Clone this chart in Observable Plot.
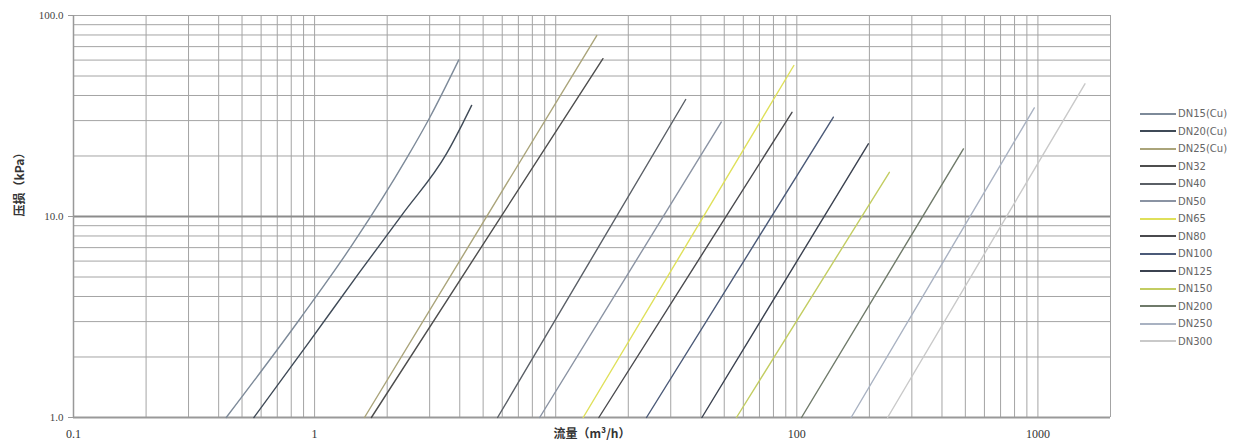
<!DOCTYPE html>
<html>
<head>
<meta charset="utf-8">
<script src="https://cdn.jsdelivr.net/npm/d3@7"></script>
<script src="https://cdn.jsdelivr.net/npm/@observablehq/plot@0.6"></script>
<style>
  html, body { margin: 0; padding: 0; background: #fff; }
  #wrap { position: relative; width: 1257px; height: 446px; }
  #legend { position: absolute; left: 1140px; top: 105px; font-family: "DejaVu Sans", sans-serif; font-size: 10px; color: #666; }
  #legend .row { display: flex; align-items: center; height: 17.5px; }
  #legend .sw { width: 36px; height: 2px; margin-right: 2px; }
</style>
</head>
<body>
<div id="wrap"><div id="legend"></div></div>
<script>
// Series names (legend order)
const series = ["DN15(Cu)", "DN20(Cu)", "DN25(Cu)", "DN32", "DN40", "DN50", "DN65",
  "DN80", "DN100", "DN125", "DN150", "DN200", "DN250", "DN300"];

// Flow (m³/h) readings per series
const flows = [
  [0.43, 0.87, 1.44, 2.41, 3.0, 3.96],
  [0.56, 0.95, 1.54, 2.32, 3.53, 4.11, 4.48],
  [1.61, 14.8],
  [1.72, 15.7],
  [5.74, 34.6],
  [8.58, 48.6],
  [13.0, 97.2],
  [15.1, 95.5],
  [23.8, 141.8],
  [40.4, 198],
  [56.2, 242],
  [104.6, 491],
  [168, 966],
  [238, 1567]
];

// Pressure loss (kPa) readings per series
const losses = [
  [1.0, 3.1, 7.3, 19.5, 31, 60],
  [1.0, 2.38, 5.3, 10.3, 20.6, 29, 35.7],
  [1.0, 79.5],
  [1.0, 61],
  [1.0, 38.2],
  [1.0, 29.5],
  [1.0, 56.4],
  [1.0, 33],
  [1.0, 31.2],
  [1.0, 23],
  [1.0, 16.6],
  [1.0, 21.7],
  [1.0, 34.7],
  [1.0, 45.7]
];

// Line colours
const palette = ["#7d8a99", "#3f4a57", "#aaa47a", "#4d4d4d", "#5a5f66", "#8a93a3", "#dfe05a",
  "#4a4a4e", "#4b5a78", "#3b4250", "#c3cd62", "#6f7a6a", "#a9b2c2", "#c9c9c9"];

// Axis tick labels
const xTickLabels = [0.1, 1, 100, 1000];
const yTickLabels = [1, 10, 100];
const xTitle = "流量（m³/h）";
const yTitle = "压损（kPa）";

// Gridlines: every 1..9 multiple of each decade
const xGrid = [0.1, 1, 10, 100, 1000].flatMap(d => d3.range(1, 10).map(k => k * d)).filter(v => v <= 2000);
const yGrid = [1, 10].flatMap(d => d3.range(1, 10).map(k => k * d)).concat([100]);

const rows = series.flatMap((s, i) => flows[i].map((f, j) => ({series: s, flow: f, loss: losses[i][j]})));

const chart = Plot.plot({
  width: 1257,
  height: 446,
  marginLeft: 73,
  marginRight: 147,
  marginTop: 15,
  marginBottom: 29,
  style: {background: "#fff", fontFamily: "Liberation Serif, serif"},
  x: {type: "log", domain: [0.1, 2000]},
  y: {type: "log", domain: [1, 100]},
  color: {domain: series, range: palette},
  marks: [
    Plot.ruleX(xGrid, {stroke: "#a4a4a4", strokeWidth: 1}),
    Plot.ruleY(yGrid, {stroke: "#a4a4a4", strokeWidth: 1}),
    Plot.ruleY([10], {stroke: "#8c8c8c", strokeWidth: 2}),
    Plot.ruleY([1], {stroke: "#999", strokeWidth: 2}),
    Plot.ruleX([0.1], {stroke: "#999", strokeWidth: 1.5}),
    Plot.line(rows, {x: "flow", y: "loss", z: "series", stroke: "series", strokeWidth: 1.4, curve: "monotone-x"}),
    Plot.axisX(xTickLabels, {tickSize: 0, tickPadding: 12, fontSize: 12, fill: "#333", label: null, tickFormat: d => String(d)}),
    Plot.axisY(yTickLabels, {tickSize: 5, stroke: "#999", tickPadding: 5, fontSize: 11, fill: "#444", label: null, tickFormat: d => d.toFixed(1)}),
    Plot.text([xTitle], {frameAnchor: "bottom", dy: 20, fontSize: 12, fontWeight: "bold", fill: "#333", fontFamily: "Noto Sans CJK SC"}),
    Plot.text([yTitle], {frameAnchor: "left", dx: -53, rotate: -90, fontSize: 12, fontWeight: "bold", fill: "#333", fontFamily: "Noto Sans CJK SC"})
  ]
});

const wrap = document.getElementById("wrap");
wrap.insertBefore(chart, wrap.firstChild);

const legend = document.getElementById("legend");
series.forEach((s, i) => {
  const row = document.createElement("div");
  row.className = "row";
  const sw = document.createElement("span");
  sw.className = "sw";
  sw.style.background = palette[i];
  const t = document.createElement("span");
  t.textContent = s;
  row.appendChild(sw);
  row.appendChild(t);
  legend.appendChild(row);
});
</script>
</body>
</html>
